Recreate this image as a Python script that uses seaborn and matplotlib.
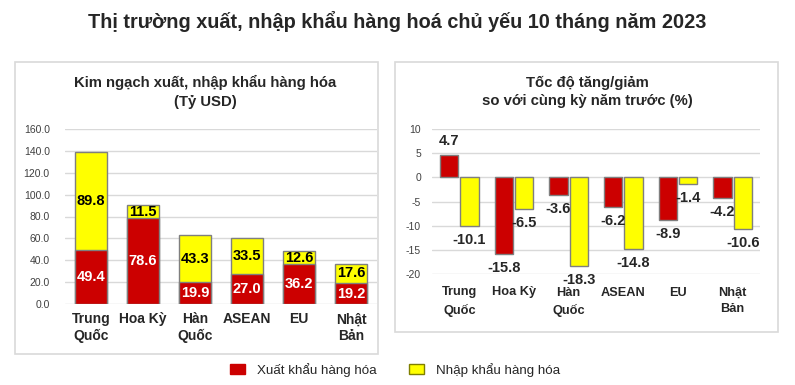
import numpy as np
import pandas as pd
import seaborn as sns
import matplotlib.pyplot as plt
from matplotlib.patches import Rectangle, Patch

# data
countries = ["Trung\nQuốc", "Hoa Kỳ", "Hàn\nQuốc", "ASEAN", "EU", "Nhật\nBản"]
export_val = [49.4, 78.6, 19.9, 27.0, 36.2, 19.2]   # Tỷ USD
import_val = [89.8, 11.5, 43.3, 33.5, 12.6, 17.6]   # Tỷ USD
export_growth = [4.7, -15.8, -3.6, -6.2, -8.9, -4.2]   # %
import_growth = [-10.1, -6.5, -18.3, -14.8, -1.4, -10.6]  # %
series = ["Xuất khẩu hàng hóa", "Nhập khẩu hàng hóa"]

RED = "#CC0000"
YELLOW = "#FFFF00"
EDGE = "#7F7F7F"

sns.set_theme(style="white")
plt.rcParams['font.family'] = ['Liberation Sans', 'DejaVu Sans']
plt.rcParams['axes.unicode_minus'] = False

W, H = 795, 385
fig = plt.figure(figsize=(W / 100, H / 100), dpi=100)

def fx(px):
    return px / W

def fy(py):
    return 1 - py / H

# panel frames
for x0, y0, x1, y1 in [(15, 62, 378, 354), (395, 62, 778, 332)]:
    fig.patches.append(Rectangle((fx(x0), fy(y1)), fx(x1 - x0), (y1 - y0) / H,
                                 transform=fig.transFigure, fill=False,
                                 edgecolor="#D9D9D9", linewidth=1.2))

fig.text(0.5, fy(22), "Thị trường xuất, nhập khẩu hàng hoá chủ yếu 10 tháng năm 2023",
         ha="center", va="center", fontsize=14.3, fontweight="bold")
fig.text(fx(205), fy(92), "Kim ngạch xuất, nhập khẩu hàng hóa\n(Tỷ USD)",
         ha="center", va="center", fontsize=10.7, fontweight="bold", linespacing=1.4)
fig.text(fx(587), fy(92), "Tốc độ tăng/giảm\nso với cùng kỳ năm trước (%)",
         ha="center", va="center", fontsize=10.7, fontweight="bold", linespacing=1.4)

# ---- left: stacked values ----
df_left = pd.DataFrame({"country": countries, "export": export_val, "import": import_val})
df_left["total"] = df_left["export"] + df_left["import"]

ax1 = fig.add_axes([fx(65), fy(304), fx(377 - 65), 175 / H])
sns.barplot(data=df_left, x="country", y="total", color=YELLOW, saturation=1,
            width=0.6, edgecolor=EDGE, linewidth=1, ax=ax1, zorder=3)
sns.barplot(data=df_left, x="country", y="export", color=RED, saturation=1,
            width=0.6, edgecolor=EDGE, linewidth=1, ax=ax1, zorder=3)
ax1.set_ylim(0, 160)
ax1.set_yticks(np.arange(0, 161, 20))
ax1.set_yticklabels([f"{v:.1f}" for v in np.arange(0, 161, 20)])
for i, row in df_left.iterrows():
    ax1.text(i, row["export"] / 2, f"{row['export']:.1f}", ha="center", va="center",
             color="white", fontsize=10.5, fontweight="bold", zorder=5)
    ax1.text(i, row["export"] + row["import"] / 2, f"{row['import']:.1f}", ha="center",
             va="center", color="black", fontsize=10.5, fontweight="bold", zorder=5)

# ---- right: growth rates ----
df_right = pd.DataFrame({
    "country": countries * 2,
    "series": [series[0]] * 6 + [series[1]] * 6,
    "growth": export_growth + import_growth,
})
ax2 = fig.add_axes([fx(432), fy(274), fx(760 - 432), 145 / H])
sns.barplot(data=df_right, x="country", y="growth", hue="series",
            palette=[RED, YELLOW], saturation=1, width=0.74, gap=0.1,
            edgecolor=EDGE, linewidth=1, legend=False, ax=ax2, zorder=3)
for cont in ax2.containers:
    ax2.bar_label(cont, fmt="%.1f", padding=5, fontsize=10.5, fontweight="bold", zorder=5)
ax2.set_ylim(-20, 10)
ax2.set_yticks(np.arange(-20, 11, 5))

for ax, ypad, xpad, xsize, lsp in [(ax1, 11, 6, 10, 1.2), (ax2, 8, 9, 9.2, 1.5)]:
    ax.set_xlabel("")
    ax.set_ylabel("")
    ax.grid(axis="y", color="#D9D9D9", linewidth=1, zorder=0)
    ax.set_axisbelow(True)
    for s in ax.spines.values():
        s.set_visible(False)
    ax.tick_params(axis="y", labelsize=7.5, pad=ypad, length=0, colors="#404040")
    ax.tick_params(axis="x", labelsize=xsize, pad=xpad, length=0)
    for lab in ax.get_xticklabels():
        lab.set_linespacing(lsp)
        lab.set_fontweight("bold")
    ax.set_xlim(-0.5, 5.5)

# legend
handles = [Patch(facecolor=RED, edgecolor=RED), Patch(facecolor=YELLOW, edgecolor="#7F7F00")]
fig.legend(handles, series, loc="center", bbox_to_anchor=(fx(395), fy(370)), ncol=2,
           frameon=False, fontsize=9.6, handlelength=1.15, handleheight=0.8,
           handletextpad=0.9, columnspacing=2.4)

fig.savefig("out.png", dpi=100)
